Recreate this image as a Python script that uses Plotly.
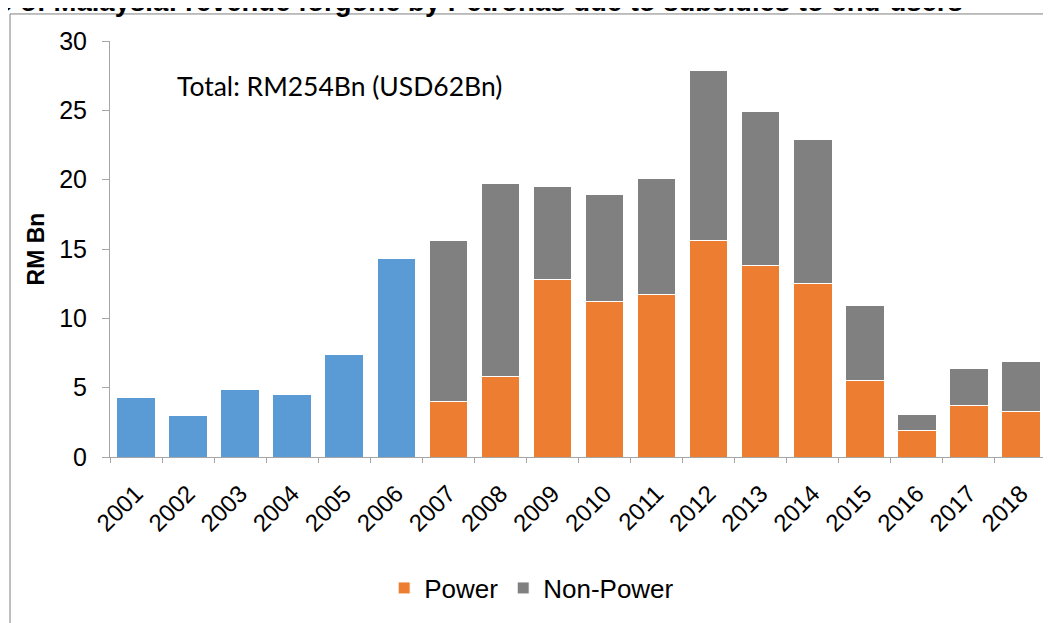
import plotly.graph_objects as go

years = [str(y) for y in range(2001, 2019)]

# total subsidy before the power / non-power split (2001-2006)
total_early = [4.3, 3.0, 4.9, 4.5, 7.4, 14.3] + [None] * 12
power = [None] * 6 + [4.0, 5.8, 12.8, 11.2, 11.7, 15.6, 13.8, 12.5, 5.5, 1.9, 3.7, 3.3]
non_power = [None] * 6 + [11.6, 13.9, 6.7, 7.7, 8.4, 12.3, 11.1, 10.4, 5.4, 1.2, 2.7, 3.6]

BLUE = "#5B9BD5"
ORANGE = "#ED7D31"
GREY = "#808080"
FONT = "Liberation Sans, Arial, sans-serif"

fig = go.Figure()
fig.add_trace(go.Bar(x=years, y=total_early, marker_color=BLUE,
                     marker_line=dict(color="white", width=1),
                     showlegend=False, name="Total"))
fig.add_trace(go.Bar(x=years, y=power, marker_color=ORANGE,
                     marker_line=dict(color="white", width=1), name="Power"))
fig.add_trace(go.Bar(x=years, y=non_power, marker_color=GREY,
                     marker_line=dict(color="white", width=1), name="Non-Power"))

# page body has an 8px margin, so the figure is sized to fit the window
fig.update_layout(
    barmode="stack",
    bargap=0.26,
    width=1043, height=615,
    margin=dict(l=102, r=4, t=33, b=166),
    plot_bgcolor="white", paper_bgcolor="white",
    font=dict(family=FONT, size=24, color="black"),
    legend=dict(orientation="h", x=0.45, xanchor="center", y=-0.315, yanchor="middle",
                font=dict(size=26), traceorder="normal"),
    xaxis=dict(tickangle=-45, showline=True, linecolor="#A6A6A6", linewidth=1,
               ticks="outside", ticklen=5, tickcolor="#A6A6A6",
               tickson="boundaries", tickfont=dict(size=24), ticklabelstandoff=12),
    yaxis=dict(range=[0, 30], dtick=5, showgrid=False, showline=True,
               linecolor="#A6A6A6", ticks="outside", ticklen=7, tickcolor="#A6A6A6",
               zeroline=False, tickfont=dict(size=25), ticklabelstandoff=10,
               title=dict(text="<b>RM Bn</b>", font=dict(size=23), standoff=8)),
    shapes=[dict(type="rect", xref="paper", yref="paper",
                 x0=-0.1067, x1=1.2, y0=-0.6, y1=1.065,
                 line=dict(color="#7F7F7F", width=1), layer="below")],
    annotations=[
        dict(text="Total: RM254Bn (USD62Bn)", xref="paper", yref="paper",
             x=0.0694, y=0.892, xanchor="left", yanchor="middle",
             showarrow=False, font=dict(family="Lato, sans-serif", size=26.5)),
        dict(text="<b>e of Malaysia: revenue forgone by Petronas due to subsidies to end-users</b>",
             xref="paper", yref="paper", x=-0.1227, y=1.094,
             xanchor="left", yanchor="middle", showarrow=False,
             font=dict(size=27.5)),
    ],
)

fig.write_html("out.html")
